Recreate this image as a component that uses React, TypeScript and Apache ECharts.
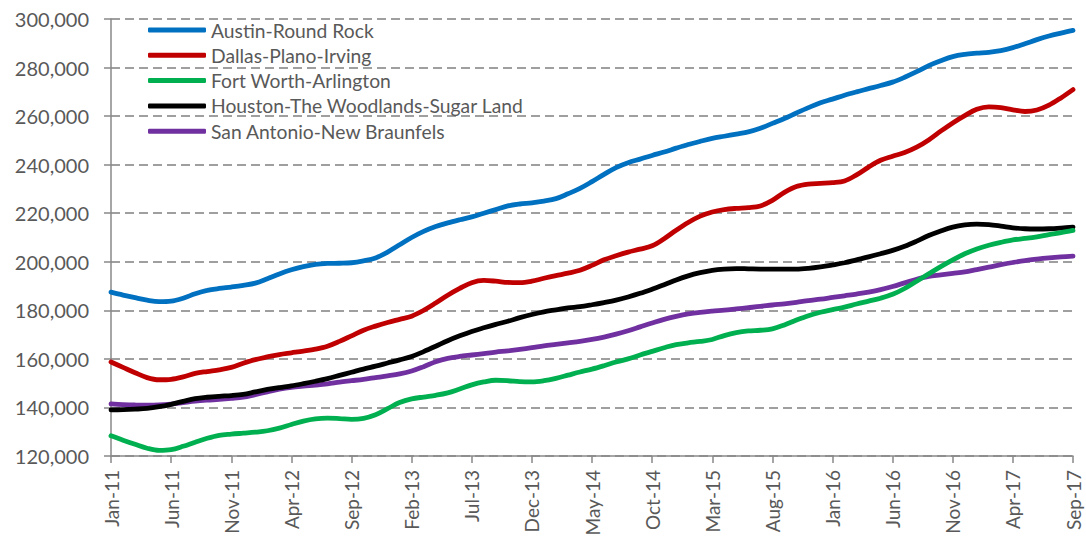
import React, { useEffect, useRef } from "react";
import * as echarts from "echarts";

const MONTHS = ["Jan", "Feb", "Mar", "Apr", "May", "Jun", "Jul", "Aug", "Sep", "Oct", "Nov", "Dec"];
const START_YEAR = 2011;
const MONTH_COUNT = 81; // Jan-11 .. Sep-17

const categories: string[] = [];
for (let i = 0; i < MONTH_COUNT; i++) {
  const y = START_YEAR + Math.floor(i / 12);
  categories.push(`${MONTHS[i % 12]}-${String(y % 100).padStart(2, "0")}`);
}

const seriesNames = [
  "Austin-Round Rock",
  "Dallas-Plano-Irving",
  "Fort Worth-Arlington",
  "Houston-The Woodlands-Sugar Land",
  "San Antonio-New Braunfels",
];

const seriesColors = ["#0070C0", "#C00000", "#00B050", "#000000", "#7030A0"];

// values in thousands of dollars
const austin = [
  187.5, 186.3, 185.2, 184.2, 183.6, 183.8, 185.0, 186.8, 188.2, 189.0,
  189.6, 190.3, 191.2, 193.0, 195.0, 196.7, 198.0, 198.9, 199.3, 199.4,
  199.6, 200.4, 201.6, 204.0, 207.0, 210.0, 212.5, 214.5, 216.0, 217.3,
  218.5, 220.0, 221.5, 223.0, 223.8, 224.3, 225.0, 226.0, 228.0, 230.2,
  233.0, 236.0, 238.8, 240.8, 242.3, 243.8, 245.2, 246.8, 248.3, 249.6,
  250.8, 251.7, 252.6, 253.5, 255.0, 257.0, 259.0, 261.3, 263.5, 265.5,
  267.0, 268.6, 270.0, 271.3, 272.6, 274.0, 276.0, 278.3, 280.8, 282.8,
  284.5, 285.4, 285.9, 286.3, 287.0, 288.2, 289.8, 291.5, 293.0, 294.2,
  295.3,
];

const dallas = [
  158.7, 156.5, 154.3, 152.3, 151.4, 151.6, 152.6, 154.0, 154.8, 155.5,
  156.5, 158.2, 159.7, 160.8, 161.8, 162.5, 163.2, 164.0, 165.2, 167.2,
  169.5, 171.8, 173.5, 175.0, 176.3, 177.6, 180.0, 183.0, 186.2, 189.0,
  191.4, 192.3, 192.0, 191.5, 191.4, 192.0, 193.2, 194.3, 195.3, 196.5,
  198.5, 200.8, 202.5, 204.0, 205.2, 206.6, 209.5, 213.0, 216.2, 218.8,
  220.5, 221.5, 222.0, 222.3, 223.0, 225.3, 228.6, 231.0, 232.0, 232.3,
  232.6, 233.3, 235.8, 239.0, 241.8, 243.5, 245.0, 247.2, 250.2, 253.8,
  257.2, 260.2, 262.8, 263.8, 263.5, 262.6, 261.9, 262.5, 264.5, 267.5,
  270.9,
];

const fortWorth = [
  128.3, 126.5, 124.8, 123.2, 122.3, 122.6, 124.0, 125.7, 127.3, 128.5,
  129.0, 129.4, 129.8, 130.4, 131.5, 133.0, 134.4, 135.3, 135.6, 135.4,
  135.1, 135.5, 137.0, 139.5, 142.0, 143.5, 144.3, 145.0, 146.0, 147.6,
  149.3, 150.5, 151.2, 151.0, 150.6, 150.5, 151.0, 152.0, 153.3, 154.6,
  155.8, 157.2, 158.7, 160.0, 161.6, 163.1, 164.6, 165.9, 166.6, 167.2,
  168.0, 169.6, 170.8, 171.5, 171.8, 172.4, 174.0, 176.0, 177.8, 179.2,
  180.3, 181.3, 182.6, 183.8, 185.0, 186.6, 189.0, 192.0, 195.0, 198.0,
  200.8, 203.3, 205.3, 206.8, 208.0, 209.0, 209.6, 210.3, 211.2, 212.0,
  212.9,
];

const houston = [
  139.0, 139.1, 139.3, 139.6, 140.3, 141.3, 142.5, 143.6, 144.2, 144.6,
  144.9, 145.4, 146.4, 147.4, 148.2, 148.9, 149.8, 150.8, 151.9, 153.2,
  154.5, 155.8, 157.0, 158.3, 159.6, 161.0, 163.0, 165.2, 167.5, 169.5,
  171.3, 172.8, 174.2, 175.5, 177.0, 178.3, 179.4, 180.2, 181.0, 181.5,
  182.3, 183.2, 184.2, 185.5, 187.0, 188.7, 190.5, 192.5, 194.2, 195.5,
  196.5, 197.0, 197.2, 197.1, 197.0, 197.0, 197.0, 197.0, 197.3, 197.9,
  198.7, 199.6, 200.8, 202.0, 203.3, 204.7, 206.4, 208.5, 210.8, 212.7,
  214.3, 215.2, 215.5, 215.3, 214.7, 214.0, 213.6, 213.5, 213.6, 213.9,
  214.3,
];

const sanAntonio = [
  141.5, 141.2, 141.0, 140.9, 141.0, 141.4, 142.0, 142.6, 143.0, 143.3,
  143.7, 144.2, 145.3, 146.4, 147.5, 148.3, 148.8, 149.2, 149.7, 150.4,
  151.0, 151.6, 152.3, 153.0, 153.8, 155.0, 156.8, 158.8, 160.2, 161.0,
  161.6, 162.2, 162.8, 163.3, 163.9, 164.6, 165.4, 166.0, 166.6, 167.2,
  168.0, 169.0, 170.2, 171.6, 173.2, 174.8, 176.3, 177.5, 178.5, 179.2,
  179.7, 180.1, 180.6, 181.1, 181.6, 182.2, 182.7, 183.3, 184.0, 184.6,
  185.3, 186.0, 186.7, 187.5, 188.5, 189.8, 191.3, 192.8, 194.0, 194.6,
  195.2, 195.8, 196.8, 197.8, 198.8, 199.7, 200.5, 201.1, 201.6, 202.0,
  202.3,
];

const seriesValues = [austin, dallas, fortWorth, houston, sanAntonio];

const Y_MIN = 120000;
const Y_MAX = 300000;
const Y_STEP = 20000;

const FONT = "Lato, 'Open Sans', sans-serif";
const TEXT_COLOR = "#595959";
const AXIS_COLOR = "#898989";

export default function App() {
  const ref = useRef<HTMLDivElement>(null);

  useEffect(() => {
    document.body.style.margin = "0";
    if (!ref.current) return;
    const chart = echarts.init(ref.current, undefined, { renderer: "svg" });

    chart.setOption({
      animation: false,
      backgroundColor: "#ffffff",
      grid: { left: 111, right: 13, top: 19, bottom: 88, containLabel: false },
      legend: {
        orient: "vertical",
        left: 143,
        top: 15,
        itemWidth: 58,
        itemHeight: 5,
        itemGap: 5.3,
        icon: "roundRect",
        data: seriesNames,
        textStyle: { fontFamily: FONT, fontSize: 19.3, color: TEXT_COLOR, lineHeight: 20 },
      },
      xAxis: {
        type: "category",
        boundaryGap: false,
        data: categories,
        axisLine: { lineStyle: { color: AXIS_COLOR, width: 1.5 } },
        axisTick: { show: true, interval: 4, length: 7, lineStyle: { color: AXIS_COLOR, width: 1.5 } },
        axisLabel: {
          interval: 4,
          rotate: 90,
          margin: 14,
          fontFamily: FONT,
          fontSize: 19,
          color: TEXT_COLOR,
        },
        splitLine: { show: false },
      },
      yAxis: {
        type: "value",
        min: Y_MIN,
        max: Y_MAX,
        interval: Y_STEP,
        axisLine: { show: true, lineStyle: { color: AXIS_COLOR, width: 1.5 } },
        axisTick: { show: true, length: 7, lineStyle: { color: AXIS_COLOR, width: 1.5 } },
        axisLabel: {
          margin: 22,
          fontFamily: FONT,
          fontSize: 20,
          color: TEXT_COLOR,
          formatter: (v: number) => v.toLocaleString("en-US"),
        },
        splitLine: { show: true, lineStyle: { color: "#808080", width: 1.6, type: [9, 5] } },
      },
      series: seriesNames.map((name, idx) => ({
        name,
        type: "line",
        data: seriesValues[idx].map((v) => Math.round(v * 1000)),
        smooth: 0.35,
        symbol: "none",
        showSymbol: false,
        lineStyle: { color: seriesColors[idx], width: 4.8, cap: "round" },
        itemStyle: { color: seriesColors[idx] },
        z: 10 - idx,
      })),
    });

    return () => chart.dispose();
  }, []);

  return <div ref={ref} style={{ width: 1086, height: 544 }} />;
}
